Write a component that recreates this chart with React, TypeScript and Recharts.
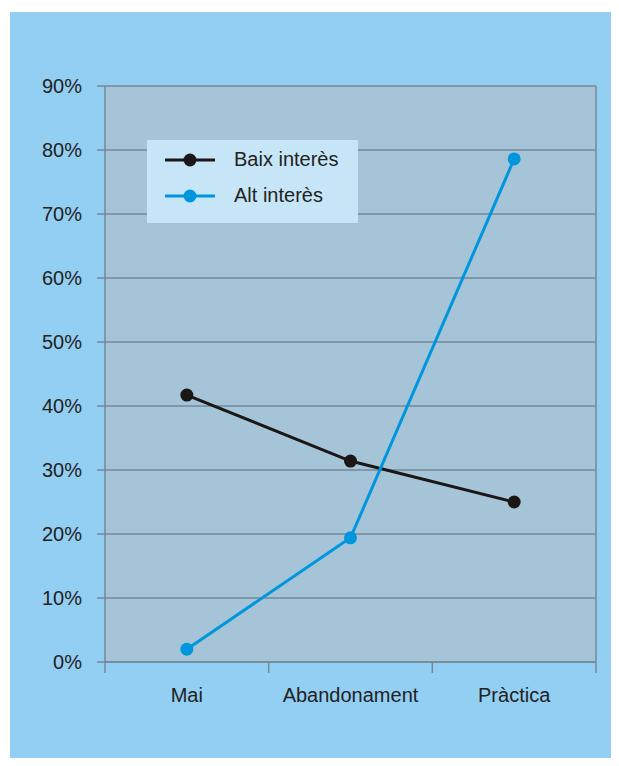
import { LineChart, Line, XAxis, YAxis, CartesianGrid, Legend, ReferenceLine } from 'recharts';

const categories = ['Mai', 'Abandonament', 'Pràctica'];
const seriesNames = ['Baix interès', 'Alt interès'];
const baixInteres = [41.7, 31.4, 25.0];
const altInteres = [2.0, 19.4, 78.6];
const yTicks = [0, 10, 20, 30, 40, 50, 60, 70, 80, 90];

const data = categories.map((name, i) => ({
  name,
  pos: i + 0.5,
  baix: baixInteres[i],
  alt: altInteres[i],
}));

const FONT = '"Liberation Sans", Arial, sans-serif';
const PLOT_W = 491;
const BAND = PLOT_W / categories.length;

const XTick = (props: any) => {
  const { x, y, payload } = props;
  const idx = payload.value;
  if (idx >= categories.length) return null;
  return (
    <text x={x + BAND / 2} y={y} dy="0.71em" textAnchor="middle" fontSize={20} fill="#222" fontFamily={FONT}>
      {categories[idx]}
    </text>
  );
};

const LegendBox = (props: any) => {
  const items = [...(props.payload || [])].sort(
    (a: any, b: any) => seriesNames.indexOf(a.value) - seriesNames.indexOf(b.value)
  );
  return (
    <div style={{ width: 211, height: 83, background: '#c6e6f8', position: 'relative' }}>
      {items.map((it: any, i: number) => (
        <div key={it.value} style={{ position: 'absolute', left: 0, top: 8 + i * 36, height: 24, width: 211 }}>
          <svg width={70} height={24} style={{ position: 'absolute', left: 18, top: 0 }}>
            <line x1={0} y1={12} x2={50} y2={12} stroke={it.color} strokeWidth={3} />
            <circle cx={25} cy={12} r={6.5} fill={it.color} />
          </svg>
          <span
            style={{
              position: 'absolute',
              left: 87,
              top: 0,
              fontFamily: FONT,
              fontSize: 20,
              color: '#222',
              lineHeight: '22px',
            }}
          >
            {it.value}
          </span>
        </div>
      ))}
    </div>
  );
};

export default function App() {
  return (
    <div style={{ margin: -8, width: 619, height: 766, background: '#fff', position: 'relative' }}>
      <div style={{ position: 'absolute', left: 10, top: 12, width: 605, height: 746, background: '#92cff3' }}>
        <LineChart width={605} height={746} data={data} margin={{ top: 74, right: 19, left: 0, bottom: 56 }}>
          <CartesianGrid vertical={false} stroke="#74899a" strokeWidth={1.5} fill="#a5c4d8" fillOpacity={1} />
          <XAxis
            dataKey="pos"
            type="number"
            domain={[0, 3]}
            ticks={[0, 1, 2, 3]}
            interval={0}
            height={40}
            tickSize={11}
            tickMargin={15}
            stroke="#74899a"
            axisLine={{ stroke: '#74899a', strokeWidth: 1.5 }}
            tickLine={{ stroke: '#74899a', strokeWidth: 1.5 }}
            tick={<XTick />}
          />
          <YAxis
            domain={[0, 90]}
            ticks={yTicks}
            interval={0}
            width={95}
            tickSize={8}
            tickMargin={15}
            tickFormatter={(v: number) => `${v}%`}
            axisLine={{ stroke: '#74899a', strokeWidth: 1.5 }}
            tickLine={{ stroke: '#74899a', strokeWidth: 1.5 }}
            tick={{ fontSize: 20, fill: '#222', fontFamily: FONT }}
          />
          <ReferenceLine x={3} stroke="#74899a" strokeWidth={1.5} />
          <Legend
            layout="horizontal"
            verticalAlign="middle"
            align="center"
            content={<LegendBox />}
            wrapperStyle={{ position: 'absolute', left: 137, top: 128, width: 211, height: 83 }}
          />
          <Line
            name="Baix interès"
            dataKey="baix"
            stroke="#1a1716"
            strokeWidth={3}
            dot={{ r: 6.5, fill: '#1a1716', stroke: 'none' }}
            isAnimationActive={false}
          />
          <Line
            name="Alt interès"
            dataKey="alt"
            stroke="#0096dd"
            strokeWidth={3}
            dot={{ r: 6.5, fill: '#0096dd', stroke: 'none' }}
            isAnimationActive={false}
          />
        </LineChart>
      </div>
    </div>
  );
}
